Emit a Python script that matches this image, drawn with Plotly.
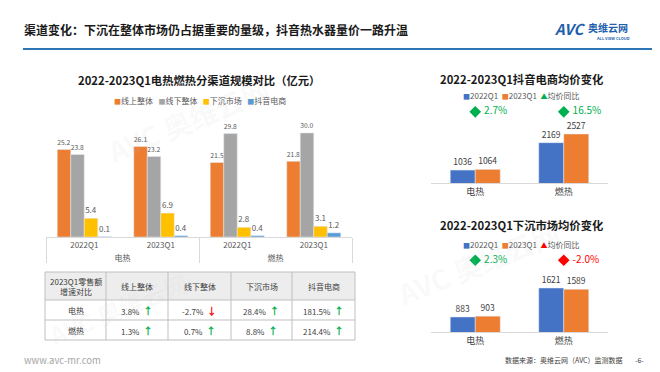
import plotly.graph_objects as go

# ---------------- data ----------------
groups = ["电热", "电热", "燃热", "燃热"]
quarters = ["2022Q1", "2023Q1", "2022Q1", "2023Q1"]
channel_names = ["线上整体", "线下整体", "下沉市场", "抖音电商"]
online = [25.2, 26.1, 21.5, 21.8]
offline = [23.8, 23.2, 29.8, 30.0]
sinking = [5.4, 6.9, 2.8, 3.1]
douyin = [0.1, 0.4, 0.4, 1.2]

table_rows = ["电热", "燃热"]
growth_elec = [3.8, -2.7, 28.4, 181.5]
growth_gas = [1.3, 0.7, 8.8, 214.4]

price_cats = ["电热", "燃热"]
dy_2022 = [1036, 2169]
dy_2023 = [1064, 2527]
dy_yoy = [2.7, 16.5]
sk_2022 = [883, 1621]
sk_2023 = [903, 1589]
sk_yoy = [2.3, -2.0]

# ---------------- style ----------------
W, H = 660, 372
FONT = "Noto Sans CJK SC"
C_OR = "#ED7D31"
C_GR = "#A5A5A5"
C_YE = "#FFC000"
C_BL = "#5B9BD5"
C_BL2 = "#4472C4"
C_UP = "#00B050"
C_DN = "#FF0000"
TXT = "#595959"


def px(x):
    return x / W


def py(y):
    return 1 - y / H


fig = go.Figure()

# ---------- left grouped bar chart ----------
xcat = [groups, quarters]
for name, vals, col in zip(channel_names, [online, offline, sinking, douyin],
                           [C_OR, C_GR, C_YE, C_BL]):
    fig.add_trace(go.Bar(
        x=xcat, y=vals, name=name, marker_color=col,
        text=[f"{v:.1f}" for v in vals], textposition="outside",
        textfont=dict(size=8, color=TXT, family=FONT), cliponaxis=False,
        xaxis="x", yaxis="y", showlegend=False))

# ---------- right bar charts ----------
bw = 0.2825


def add_price(xa, ya, yo, v22, v23, yoy, level):
    fig.add_trace(go.Bar(x=price_cats, y=v22, width=bw, offset=-bw, marker_color=C_BL2,
                         text=[str(v) for v in v22], textposition="outside",
                         textfont=dict(size=8.5, color="#404040", family=FONT),
                         cliponaxis=False, xaxis=xa, yaxis=ya, showlegend=False))
    fig.add_trace(go.Bar(x=price_cats, y=v23, width=bw, offset=0, marker_color=C_OR,
                         text=[str(v) for v in v23], textposition="outside",
                         textfont=dict(size=8.5, color="#404040", family=FONT),
                         cliponaxis=False, xaxis=xa, yaxis=ya, showlegend=False))
    cols = [C_UP if v >= 0 else C_DN for v in yoy]
    fig.add_trace(go.Scatter(x=price_cats, y=[level] * len(price_cats), mode="markers+text",
                             marker=dict(symbol="diamond", size=9, color=cols),
                             text=[f"&nbsp;{v:.1f}%" for v in yoy], textposition="middle right",
                             textfont=dict(size=10, color=cols, family=FONT),
                             cliponaxis=False, xaxis=xa, yaxis=yo, showlegend=False))


add_price("x2", "y2", "y3", dy_2022, dy_2023, dy_yoy, 0.89)
add_price("x3", "y4", "y5", sk_2022, sk_2023, sk_yoy, 0.92)

# ---------- layout ----------
noax = dict(visible=False, showgrid=False, zeroline=False, fixedrange=True)
fig.update_layout(
    width=W, height=H, margin=dict(l=0, r=0, t=0, b=0),
    paper_bgcolor="white", plot_bgcolor="rgba(0,0,0,0)",
    font=dict(family=FONT, color=TXT),
    barmode="group", bargap=0.294, bargroupgap=0,
    xaxis=dict(type="multicategory", domain=[px(38), px(344)], anchor="y",
               showline=True, linecolor="#D9D9D9", showdividers=True,
               dividercolor="#D9D9D9", dividerwidth=1, ticks="",
               tickfont=dict(size=8, color=TXT, family=FONT), showgrid=False),
    yaxis=dict(domain=[py(229), py(110)], range=[0, 34.3], anchor="x", **noax),
    xaxis2=dict(domain=[px(423), px(600)], anchor="y2", showline=True, linecolor="#D9D9D9",
                range=[-0.5, 1.5], ticks="", tickfont=dict(size=9, color="#404040", family=FONT),
                showgrid=False),
    yaxis2=dict(domain=[py(175), py(95)], range=[500, 3810], anchor="x2", **noax),
    yaxis3=dict(overlaying="y2", range=[0, 1], anchor="x2", **noax),
    xaxis3=dict(domain=[px(423), px(600)], anchor="y4", showline=True, linecolor="#D9D9D9",
                range=[-0.5, 1.5], ticks="", tickfont=dict(size=9, color="#404040", family=FONT),
                showgrid=False),
    yaxis4=dict(domain=[py(324), py(246)], range=[500, 2487], anchor="x3", **noax),
    yaxis5=dict(overlaying="y4", range=[0, 1], anchor="x3", **noax),
)

ann = []
shapes = []


def text(x, y, s, size, color="#262626", xanchor="center", bold=False, **kw):
    ann.append(dict(x=px(x), y=py(y), xref="paper", yref="paper", text=(f"<b>{s}</b>" if bold else s),
                    showarrow=False, xanchor=xanchor, yanchor="middle",
                    font=dict(size=size, color=color, family=FONT), **kw))


def line(x0, y0, x1, y1, color, width=1):
    shapes.append(dict(type="line", xref="paper", yref="paper", x0=px(x0), x1=px(x1),
                       y0=py(y0), y1=py(y1), line=dict(color=color, width=width)))


# faint watermarks
for (wx, wy, sz) in [(180, 112, 28), (470, 255, 28), (110, 300, 24)]:
    text(wx, wy, "AVC 奥维云网", sz, color="rgba(200,200,200,0.09)", bold=True, textangle=-22)

# ---------- table (drawn) ----------
col_x = [37, 98, 160, 223, 284, 347]
row_y = [264, 292, 312, 332]
shapes.append(dict(type="rect", xref="paper", yref="paper", x0=px(col_x[0]), x1=px(col_x[-1]),
                   y0=py(row_y[1]), y1=py(row_y[0]), fillcolor="#EDEDED", line=dict(width=0),
                   layer="below"))
for yv in row_y:
    line(col_x[0], yv, col_x[-1], yv, "#BFBFBF")
for xv in col_x:
    line(xv, row_y[0], xv, row_y[-1], "#BFBFBF")


def gtxt(v):
    if v >= 0:
        return f"{v:.1f}%&nbsp;&nbsp;<span style='color:{C_UP};font-size:10px'><b>↑</b></span>"
    return f"{v:.1f}%&nbsp;&nbsp;<span style='color:{C_DN};font-size:10px'><b>↓</b></span>"


headers = ["2023Q1零售额<br>增速对比"] + channel_names
for i, hdr in enumerate(headers):
    cx = (col_x[i] + col_x[i + 1]) / 2
    text(cx, (row_y[0] + row_y[1]) / 2, hdr, 8, color="#404040")
for r, (rname, vals) in enumerate(zip(table_rows, [growth_elec, growth_gas])):
    cy = (row_y[r + 1] + row_y[r + 2]) / 2
    text((col_x[0] + col_x[1]) / 2, cy, rname, 8, color="#404040")
    for i, v in enumerate(vals):
        text((col_x[i + 1] + col_x[i + 2]) / 2, cy, gtxt(v), 8, color="#404040")

# header
text(14, 22, "渠道变化：下沉在整体市场仍占据重要的量级，抖音热水器量价一路升温", 12,
     color="#1A1A1A", xanchor="left", bold=True)
text(544, 21, "<i>AVC</i>", 15, color="#1F5FAD", xanchor="left", bold=True)
text(578, 20, "奥维云网", 10, color="#1F5FAD", xanchor="left", bold=True)
text(605, 30, "ALL VIEW CLOUD", 4, color="#1F5FAD", bold=True)

# chart titles
text(191, 72, "2022-2023Q1电热燃热分渠道规模对比（亿元）", 11.3, color="#1A1A1A", bold=True)
text(513, 71, "2022-2023Q1抖音电商均价变化", 11.3, color="#1A1A1A", bold=True)
text(513, 217, "2022-2023Q1下沉市场均价变化", 11.3, color="#1A1A1A", bold=True)

sq = "<span style='font-size:7px'>■</span>"
text(192, 92, "&nbsp;&nbsp;&nbsp;".join(
    f"<span style='color:{c}'>{sq}</span>{n}" for c, n in zip([C_OR, C_GR, C_YE, C_BL], channel_names)),
    8, color=TXT)
text(513, 87, f"<span style='color:{C_BL2}'>{sq}</span>2022Q1&nbsp;&nbsp;<span style='color:{C_OR}'>{sq}</span>2023Q1&nbsp;&nbsp;"
     f"<span style='color:{C_UP};font-size:7px'>▲</span>均价同比", 8, color=TXT)
text(513, 236, f"<span style='color:{C_BL2}'>{sq}</span>2022Q1&nbsp;&nbsp;<span style='color:{C_OR}'>{sq}</span>2023Q1&nbsp;&nbsp;"
     f"<span style='color:{C_DN};font-size:7px'>▲</span>均价同比", 8, color=TXT)

# footer
text(14, 352, "www.avc-mr.com", 9.5, color="#A6A6A6", xanchor="left")
text(495, 352, "数据来源：奥维云网（AVC）监测数据", 7, color="#404040", xanchor="left")
text(631, 352, "-6-", 7, color="#404040")

line(15, 41, 645, 41, "#2E75B6", 2)

fig.update_layout(annotations=ann, shapes=shapes)

fig.write_html("out.html")
